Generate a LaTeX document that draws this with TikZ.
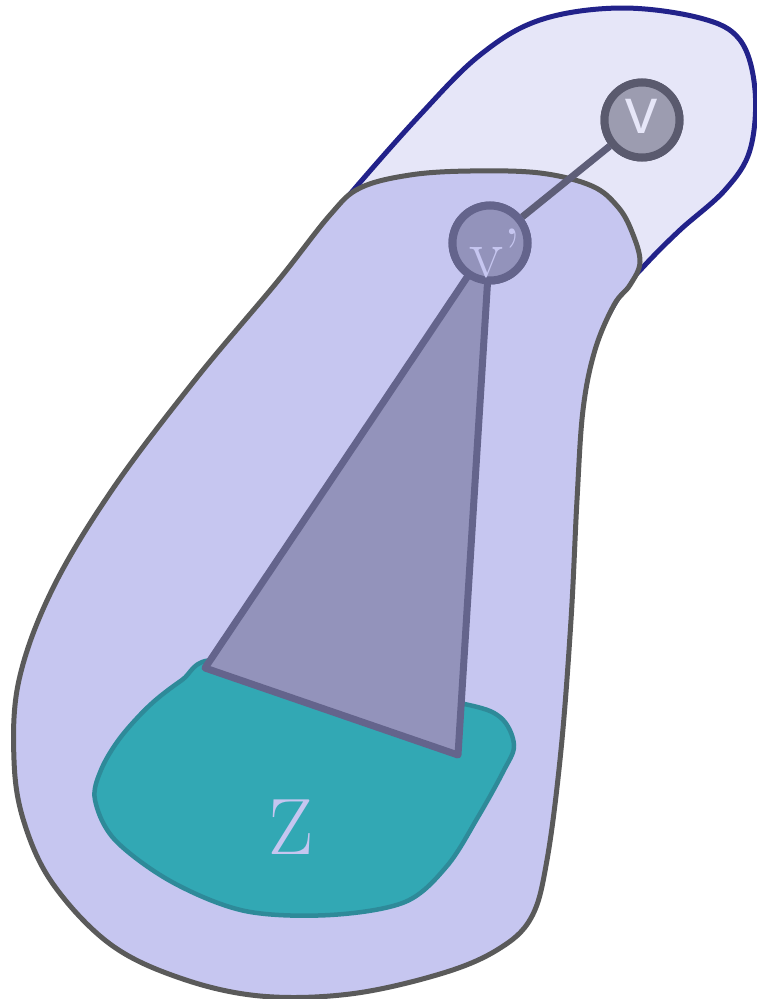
\documentclass[tikz,border=0pt]{standalone}
\usepackage{fontspec}
\newfontfamily\vfont{Open Sans}
\definecolor{outerfill}{HTML}{E6E6F8}
\definecolor{outerline}{HTML}{22228A}
\definecolor{innerfill}{HTML}{C6C6F0}
\definecolor{innerline}{HTML}{5A5A5A}
\definecolor{tealfill}{HTML}{32A8B4}
\definecolor{tealline}{HTML}{2E8A99}
\definecolor{trifill}{HTML}{9393BB}
\definecolor{triline}{HTML}{64648C}
\definecolor{vfill}{HTML}{9C9CB0}
\definecolor{vline}{HTML}{5A5A6E}
\definecolor{edgeline}{HTML}{5E5E78}
\begin{document}
\begin{tikzpicture}[x=1pt,y=-1pt,
  blob/.style={line width=5pt, line join=round},
  vertex/.style={circle, minimum size=75pt, inner sep=0pt, line width=8pt}]
\useasboundingbox (0,0) rectangle (756,999);
% outer blob
\draw[blob, draw=outerline, fill=outerfill] plot[smooth cycle, tension=0.6] coordinates {
 (345,200) (420,115) (480,55) (540,20) (620,8) (700,18) (740,40) (755,90) (750,150)
 (725,190) (680,230) (645,265) (620,295) (595,345) (580,410) (575,500) (570,620)
 (560,750) (545,860) (528,915) (497,946) (440,970) (350,990) (260,993) (180,975)
 (110,940) (55,880) (28,820) (18,760) (23,680) (55,590) (115,490) (198,380) (280,280)};
% inner blob
\draw[blob, draw=innerline, fill=innerfill] plot[smooth cycle, tension=0.6] coordinates {
 (330,215) (360,188) (410,175) (470,171) (540,173) (592,186) (618,207) (632,232)
 (640,262) (630,285) (614,305) (595,350) (583,410) (577,500) (571,620) (561,750)
 (547,860) (531,918) (497,950) (440,974) (350,994) (260,996) (180,978) (110,944)
 (53,884) (24,822) (14,760) (19,680) (52,590) (112,490) (195,380) (277,282)};
% teal region Z
\draw[line width=4.5pt, draw=tealline, fill=tealfill] plot[smooth cycle, tension=0.55] coordinates {
 (95,800) (101,770) (120,738) (150,705) (182,680) (215,660) (330,680) (460,703)
 (500,717) (514,745) (503,772) (478,817) (447,866) (405,902) (330,915) (245,911)
 (172,882) (115,840)};
\node[text=innerfill, font=\fontsize{80}{80}\selectfont] (zl) at (291,827) {Z};
% nodes
\node[vertex, draw=triline, fill=trifill] (vp) at (490,243) {};
\node[vertex, draw=vline, fill=vfill] (v) at (642,120) {};
% triangle
\coordinate (ta) at (205,668);
\coordinate (tb) at (458,755);
\draw[line width=7pt, line join=round, draw=triline, fill=trifill] (ta) -- (tb) -- (vp.center) -- cycle;
% edge
\draw[line width=7pt, draw=edgeline] (v) -- (vp);
% redraw nodes on top
\node[vertex, draw=triline, fill=trifill] at (vp) {};
\node[vertex, draw=vline, fill=vfill] at (v) {};
\node[text=innerfill, font=\fontsize{70}{70}\selectfont] (vpl) at (495,253) {v'};
\node[text=outerfill, font=\vfont\fontsize{64}{64}\selectfont] (vl) at (642,116) {v};
\end{tikzpicture}
\end{document}
